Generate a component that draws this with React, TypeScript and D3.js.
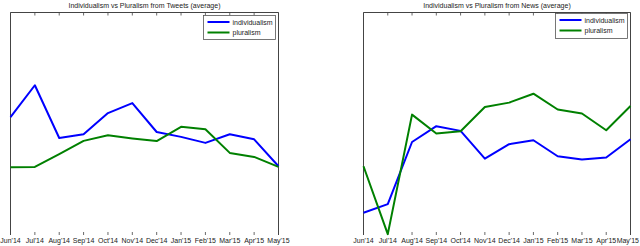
import { useEffect, useRef } from 'react';
import * as d3 from 'd3';

const months = ["Jun'14", "Jul'14", "Aug'14", "Sep'14", "Oct'14", "Nov'14", "Dec'14", "Jan'15", "Feb'15", "Mar'15", "Apr'15", "May'15"];
const seriesNames = ['individualism', 'pluralism'];
const seriesColors = ['#0000ff', '#008000'];

// average scores (no axis labels, 0..100 scale)
const tweetsIndividualism = [53.0, 67.3, 43.6, 45.3, 54.8, 59.3, 46.3, 44.1, 41.4, 45.3, 43.0, 30.9];
const tweetsPluralism = [30.4, 30.6, 36.3, 42.3, 44.8, 43.4, 42.2, 48.6, 47.5, 36.9, 35.1, 30.6];
const newsIndividualism = [10.0, 13.9, 41.8, 48.9, 46.8, 34.3, 40.8, 42.6, 35.4, 33.9, 34.8, 43.0];
const newsPluralism = [30.9, 0.4, 54.1, 45.6, 46.6, 57.5, 59.5, 63.5, 56.4, 54.6, 47.1, 58.0];

const titles = ['Individualism vs Pluralism from Tweets (average)', 'Individualism vs Pluralism from News (average)'];

export default function App() {
    const svgRef = useRef(null);

    useEffect(() => {
        const svg = d3.select(svgRef.current);
        svg.selectAll('*').remove();

        const font = 'Liberation Sans, Arial, sans-serif';
        const W = 640;
        const panels = [
            { left: 10.5, right: 278.5, title: titles[0], data: [tweetsIndividualism, tweetsPluralism], legend: { x: 203.5, y: 15.5, w: 72, h: 24 } },
            { left: 363.5, right: 630.5, title: titles[1], data: [newsIndividualism, newsPluralism], legend: { x: 555.5, y: 13.5, w: 72, h: 25 } },
        ];
        const top = 12.5;
        const bottom = 235;

        panels.forEach(p => {
            const g = svg.append('g');
            const x = d3.scalePoint().domain(months).range([p.left, p.right]);
            const y = d3.scaleLinear().domain([0, 100]).range([bottom, top]);

            // box (top, left, right edges)
            g.append('path')
                .attr('d', `M${p.left},${bottom}V${top}H${p.right}V${bottom}`)
                .attr('fill', 'none')
                .attr('stroke', '#444')
                .attr('stroke-width', 1);

            months.forEach(m => {
                g.append('line').attr('x1', x(m)).attr('x2', x(m)).attr('y1', top).attr('y2', top + 3)
                    .attr('stroke', '#444').attr('stroke-width', 0.8);
                g.append('line').attr('x1', x(m)).attr('x2', x(m)).attr('y1', bottom).attr('y2', bottom - 3)
                    .attr('stroke', '#444').attr('stroke-width', 0.8);
                // keep the last label inside the page
                const tooFar = x(m) + 11 > W;
                g.append('text')
                    .attr('x', tooFar ? W - 1 : x(m))
                    .attr('y', 243)
                    .attr('text-anchor', tooFar ? 'end' : 'middle')
                    .attr('font-family', font)
                    .attr('font-size', 7)
                    .attr('fill', '#222')
                    .text(m);
            });

            const line = d3.line<number>()
                .x((d, i) => x(months[i]))
                .y(d => y(d));

            p.data.forEach((vals, k) => {
                g.append('path')
                    .datum(vals)
                    .attr('d', line)
                    .attr('fill', 'none')
                    .attr('stroke', seriesColors[k])
                    .attr('stroke-width', 2)
                    .attr('stroke-linejoin', 'round');
            });

            g.append('text')
                .attr('x', (p.left + p.right) / 2)
                .attr('y', 8)
                .attr('text-anchor', 'middle')
                .attr('font-family', font)
                .attr('font-size', 7)
                .attr('fill', '#222')
                .text(p.title);

            const lg = p.legend;
            g.append('rect')
                .attr('x', lg.x).attr('y', lg.y).attr('width', lg.w).attr('height', lg.h)
                .attr('fill', '#fff').attr('stroke', '#555').attr('stroke-width', 0.8);
            seriesNames.forEach((name, k) => {
                const ly = lg.y + 6.5 + k * 10.5;
                g.append('line')
                    .attr('x1', lg.x + 4).attr('x2', lg.x + 26).attr('y1', ly).attr('y2', ly)
                    .attr('stroke', seriesColors[k]).attr('stroke-width', 2);
                g.append('text')
                    .attr('x', lg.x + 29).attr('y', ly + 2.5)
                    .attr('font-family', font).attr('font-size', 7).attr('fill', '#222')
                    .text(name);
            });
        });
    }, []);

    return (
        <svg ref={svgRef} width={640} height={246}
            style={{ position: 'absolute', left: 0, top: 0, background: '#fff' }} />
    );
}
